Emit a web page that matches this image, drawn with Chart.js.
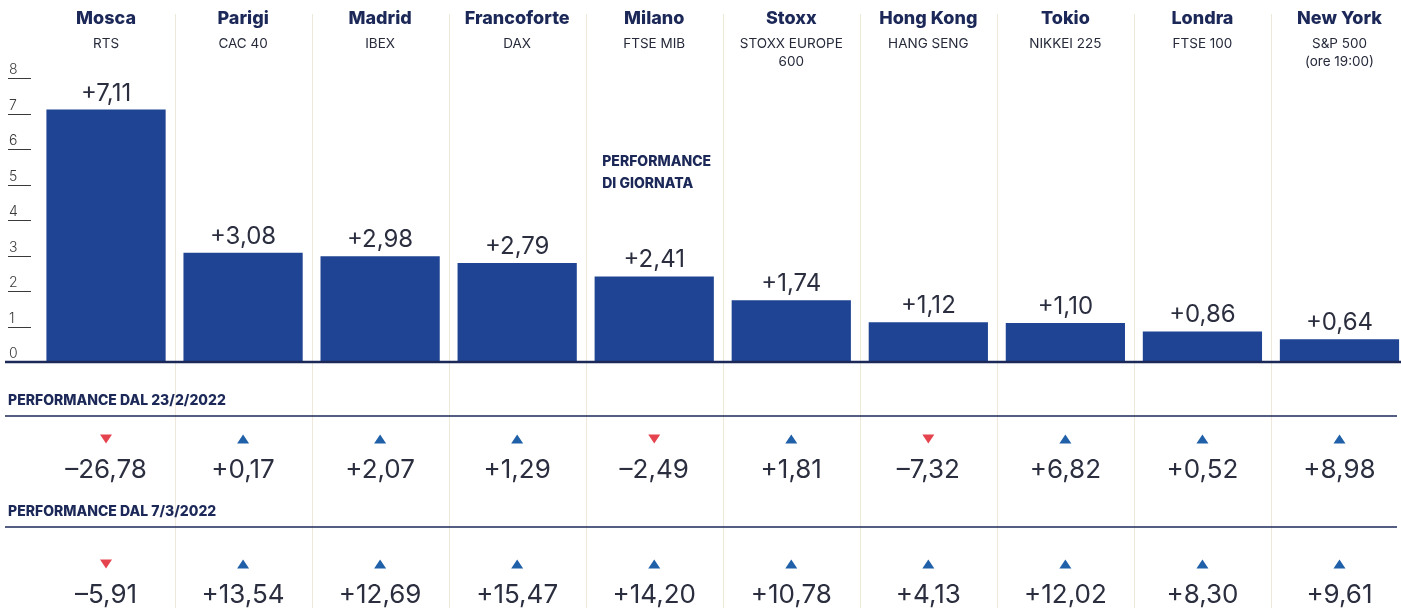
<!DOCTYPE html>
<html>
<head>
<meta charset="utf-8">
<script src="https://cdn.jsdelivr.net/npm/chart.js@4"></script>
<style>
    html, body { margin: 0; padding: 0; background: #ffffff; overflow: hidden; }
    #wrap { width: 1401px; height: 608px; overflow: hidden; }
    #borse { display: block; }
</style>
</head>
<body>
<div id="wrap"><canvas id="borse" width="1408" height="608"></canvas></div>
<script>
// Data
const cities = ['Mosca', 'Parigi', 'Madrid', 'Francoforte', 'Milano', 'Stoxx', 'Hong Kong', 'Tokio', 'Londra', 'New York'];
const indexNames = [['RTS'], ['CAC 40'], ['IBEX'], ['DAX'], ['FTSE MIB'], ['STOXX EUROPE', '600'], ['HANG SENG'], ['NIKKEI 225'], ['FTSE 100'], ['S&P 500', '(ore 19:00)']];
const dailyPerf = [7.11, 3.08, 2.98, 2.79, 2.41, 1.74, 1.12, 1.10, 0.86, 0.64];
const perfSince23Feb = [-26.78, 0.17, 2.07, 1.29, -2.49, 1.81, -7.32, 6.82, 0.52, 8.98];
const perfSince7Mar = [-5.91, 13.54, 12.69, 15.47, 14.20, 10.78, 4.13, 12.02, 8.30, 9.61];
const yTicks = [0, 1, 2, 3, 4, 5, 6, 7, 8];
const rowTitles = ['PERFORMANCE DAL 23/2/2022', 'PERFORMANCE DAL 7/3/2022'];

// Colours
const BAR_BLUE = '#1f4493';
const NAVY = '#1b2858';
const TEXT_DARK = '#2b2e3f';
const UP_BLUE = '#2060a8';
const DOWN_RED = '#e5444f';
const SEPARATOR = '#eee8da';

const NUM_FONT = '"Inter", "Roboto", sans-serif';

function formatValue(v) {
    const s = Math.abs(v).toFixed(2).replace('.', ',');
    return (v < 0 ? '\u2013' : '+') + s;
}

function drawTriangle(ctx, x, y, up) {
    ctx.fillStyle = up ? UP_BLUE : DOWN_RED;
    ctx.beginPath();
    if (up) {
        ctx.moveTo(x - 6, y + 4.5);
        ctx.lineTo(x + 6, y + 4.5);
        ctx.lineTo(x, y - 4.5);
    } else {
        ctx.moveTo(x - 6, y - 4.5);
        ctx.lineTo(x + 6, y - 4.5);
        ctx.lineTo(x, y + 4.5);
    }
    ctx.closePath();
    ctx.fill();
}

// Everything around the bars: headers, axis ticks, labels and the two lower rows
const decorPlugin = {
    id: 'decor',
    beforeDatasetsDraw(chart) {
        const ctx = chart.ctx;
        const x = chart.scales.x;
        const step = x.getPixelForValue(1) - x.getPixelForValue(0);
        ctx.save();
        // column separators
        ctx.strokeStyle = SEPARATOR;
        ctx.lineWidth = 1;
        for (let i = 1; i < cities.length; i++) {
            const px = Math.round(x.getPixelForValue(i) - step / 2) + 0.5;
            ctx.beginPath();
            ctx.moveTo(px, 14);
            ctx.lineTo(px, 608);
            ctx.stroke();
        }
        ctx.restore();
    },
    afterDatasetsDraw(chart) {
        const ctx = chart.ctx;
        const x = chart.scales.x;
        const y = chart.scales.y;
        const meta = chart.getDatasetMeta(0);
        ctx.save();

        // headers
        ctx.textAlign = 'center';
        ctx.textBaseline = 'middle';
        cities.forEach((c, i) => {
            const cx = x.getPixelForValue(i);
            ctx.fillStyle = NAVY;
            ctx.font = '800 18px ' + NUM_FONT;
            ctx.fillText(c, cx, 19);
            ctx.fillStyle = '#262a3a';
            ctx.font = '13.5px ' + NUM_FONT;
            indexNames[i].forEach((line, j) => ctx.fillText(line, cx, 44 + j * 18));
        });

        // y ticks with underline
        ctx.textAlign = 'left';
        ctx.textBaseline = 'alphabetic';
        ctx.font = '300 14px ' + NUM_FONT;
        yTicks.forEach(t => {
            const py = y.getPixelForValue(t);
            ctx.fillStyle = '#3a3a3a';
            ctx.fillText(String(t), 9, py - 4);
            if (t > 0) {
                ctx.strokeStyle = '#3a3a3a';
                ctx.lineWidth = 1;
                ctx.beginPath();
                ctx.moveTo(8, Math.round(py) + 0.5);
                ctx.lineTo(31, Math.round(py) + 0.5);
                ctx.stroke();
            }
        });

        // value labels above bars
        ctx.textAlign = 'center';
        ctx.fillStyle = TEXT_DARK;
        ctx.font = '24px ' + NUM_FONT;
        meta.data.forEach((bar, i) => {
            ctx.fillText(formatValue(dailyPerf[i]), bar.x, bar.y - 9);
        });

        // note in Milano column
        ctx.textAlign = 'left';
        ctx.fillStyle = NAVY;
        ctx.font = '800 14px ' + NUM_FONT;
        const noteX = x.getPixelForValue(4) - 52;
        ctx.fillText('PERFORMANCE', noteX, 166);
        ctx.fillText('DI GIORNATA', noteX, 188);

        // baseline
        const base = Math.round(y.getPixelForValue(0));
        ctx.strokeStyle = NAVY;
        ctx.lineWidth = 2.5;
        ctx.beginPath();
        ctx.moveTo(5, base);
        ctx.lineTo(1401, base);
        ctx.stroke();

        // lower rows
        const rows = [perfSince23Feb, perfSince7Mar];
        const rowTop = [401, 512];
        rows.forEach((vals, r) => {
            const top = rowTop[r];
            ctx.textAlign = 'left';
            ctx.textBaseline = 'middle';
            ctx.fillStyle = NAVY;
            ctx.font = '800 14px ' + NUM_FONT;
            ctx.fillText(rowTitles[r], 8, top);
            ctx.strokeStyle = NAVY;
            ctx.lineWidth = 1.5;
            ctx.beginPath();
            ctx.moveTo(5, top + 15);
            ctx.lineTo(1397, top + 15);
            ctx.stroke();

            ctx.textAlign = 'center';
            ctx.textBaseline = 'alphabetic';
            vals.forEach((v, i) => {
                const cx = x.getPixelForValue(i);
                drawTriangle(ctx, cx, top + (r === 0 ? 38 : 52), v >= 0);
                ctx.fillStyle = TEXT_DARK;
                ctx.font = '26px ' + NUM_FONT;
                ctx.fillText(formatValue(v), cx, top + (r === 0 ? 77 : 91));
            });
        });

        ctx.restore();
    }
};

const chart = new Chart(document.getElementById('borse').getContext('2d'), {
    type: 'bar',
    data: {
        labels: cities,
        datasets: [{
            label: 'Performance di giornata',
            data: dailyPerf,
            backgroundColor: BAR_BLUE,
            borderWidth: 0,
            barPercentage: 0.87,
            categoryPercentage: 1
        }]
    },
    options: {
        responsive: false,
        animation: false,
        devicePixelRatio: 1,
        layout: {
            padding: { left: 37.5, right: 0, top: 78, bottom: 246 }
        },
        plugins: {
            legend: { display: false },
            tooltip: { enabled: false }
        },
        scales: {
            x: { display: false },
            y: { display: false, min: 0, max: 8 }
        }
    },
    plugins: [decorPlugin]
});
</script>
</body>
</html>
